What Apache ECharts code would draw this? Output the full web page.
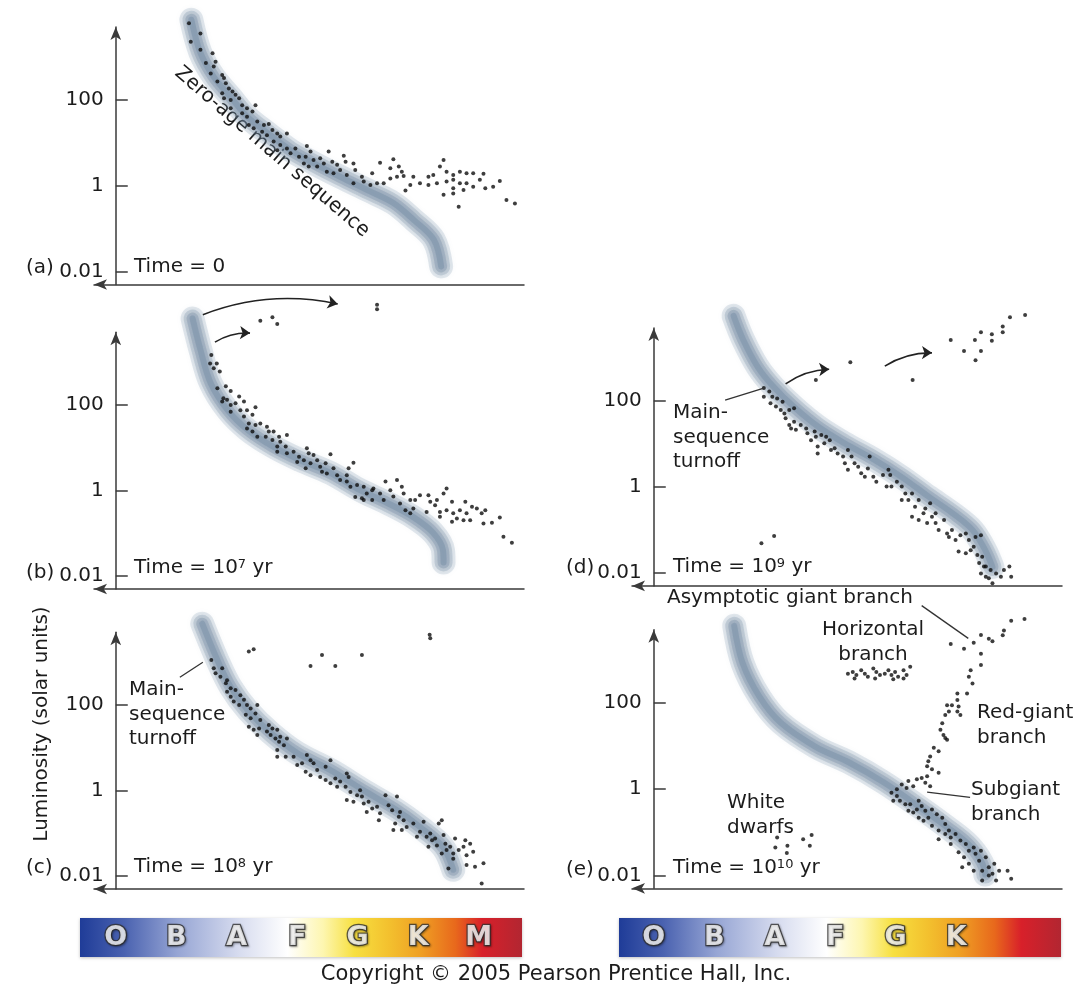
<!DOCTYPE html>
<html><head><meta charset="utf-8">
<script src="https://cdn.jsdelivr.net/npm/echarts@6/dist/echarts.min.js"></script>
<style>html,body{margin:0;padding:0;background:#fff}#c{width:1077px;height:986px}</style>
</head><body><div id="c"></div>
<script>
// ---------------- DATA ----------------
// x = spectral-class index (O=0, B=1, A=2, F=3, G=4, K=5, M=6), second value = log10 luminosity (solar units)
const yTickValues = [0.01, 1, 100];
const yTickLabels = ['0.01', '1', '100'];
const spectralClassesLeft = ['O','B','A','F','G','K','M'];
const spectralClassesRight = ['O','B','A','F','G','K'];

const zamsA = [[1.25,3.87],[1.40,3.10],[1.62,2.54],[1.90,2.07],[2.18,1.60],[2.51,1.23],[2.89,0.83],[3.27,0.53],[3.71,0.21],[4.16,-0.10],[4.59,-0.40],[4.93,-0.80],[5.26,-1.26],[5.38,-1.88]];
const zamsB = [[1.27,4.02],[1.40,3.29],[1.57,2.51],[1.85,1.88],[2.18,1.42],[2.61,1.02],[3.05,0.71],[3.55,0.41],[4.04,0.01],[4.49,-0.29],[4.92,-0.62],[5.25,-0.99],[5.41,-1.39],[5.42,-1.68]];
const zamsC = [[1.43,3.90],[1.68,3.05],[1.90,2.42],[2.18,1.88],[2.56,1.35],[3.00,0.88],[3.55,0.48],[4.09,0.01],[4.65,-0.46],[5.03,-0.85],[5.41,-1.32],[5.58,-1.85]];
const zamsD = [[1.32,3.98],[1.48,3.42],[1.72,2.79],[1.98,2.33],[2.32,1.86],[2.72,1.40],[3.15,1.02],[3.65,0.63],[4.10,0.23],[4.55,-0.23],[4.93,-0.60],[5.27,-1.00],[5.48,-1.47],[5.60,-1.86]];
const zamsE = [[1.33,3.79],[1.47,2.92],[1.75,2.14],[2.10,1.54],[2.67,0.99],[3.23,0.62],[3.80,0.16],[4.38,-0.40],[4.83,-0.86],[5.23,-1.32],[5.47,-1.85],[5.48,-1.98]];

const starsA = [[1.21,3.79],[1.40,3.55],[1.24,3.36],[1.40,3.17],[1.60,3.09],[1.49,2.86],[1.62,2.78],[1.65,2.89],[1.57,2.62],[1.76,2.58],[1.79,2.51],[1.68,2.43],[1.82,2.39],[1.87,2.27],[1.76,2.16],[1.93,2.20],[1.98,2.12],[1.79,2.04],[1.90,2.00],[2.04,2.04],[1.90,1.81],[2.09,1.88],[2.17,1.81],[2.31,1.88],[2.09,1.69],[2.17,1.61],[2.26,1.73],[2.34,1.50],[2.20,1.42],[2.28,1.34],[2.45,1.42],[2.53,1.44],[2.42,1.26],[2.50,1.18],[2.59,1.30],[2.67,1.22],[2.72,1.15],[2.83,1.22],[2.61,1.03],[2.72,0.95],[2.83,0.87],[2.97,0.87],[3.16,0.93],[2.67,0.83],[2.89,0.76],[3.03,0.68],[3.14,0.68],[3.22,0.80],[3.27,0.60],[3.38,0.64],[3.52,0.80],[3.11,0.52],[3.19,0.45],[3.33,0.45],[3.44,0.52],[3.58,0.56],[3.66,0.49],[3.77,0.70],[3.80,0.56],[3.93,0.52],[3.49,0.33],[3.60,0.29],[3.71,0.37],[3.82,0.25],[3.96,0.37],[4.07,0.21],[4.24,0.29],[4.37,0.54],[4.54,0.41],[4.59,0.62],[4.68,0.45],[4.73,0.33],[3.93,0.06],[4.10,0.10],[4.21,0.02],[4.32,0.06],[4.43,0.06],[4.54,0.17],[4.65,0.21],[4.76,0.23],[4.92,0.21],[4.87,0.02],[5.03,0.06],[5.17,0.21],[5.25,0.25],[5.42,0.60],[5.36,0.45],[5.47,0.33],[5.58,0.25],[5.69,0.33],[5.80,0.29],[5.91,0.29],[6.08,0.28],[5.17,0.02],[5.31,0.06],[5.47,0.10],[5.58,0.14],[5.69,0.06],[5.80,0.06],[5.91,-0.02],[5.58,-0.06],[5.75,-0.10],[5.42,-0.21],[5.58,-0.18],[6.02,0.14],[6.11,-0.06],[6.24,-0.02],[6.35,0.11],[5.67,-0.49],[4.79,-0.11],[6.46,-0.33],[6.60,-0.41]];

const starsB = [[2.39,3.97],[2.59,4.05],[2.67,3.89],[4.32,4.34],[4.32,4.24],
[1.58,3.17],[1.56,2.97],[1.67,2.97],[1.62,2.86],[1.72,2.78],[1.68,2.39],[1.82,2.44],[1.90,2.33],[1.78,2.16],[1.76,2.08],[1.84,2.12],[1.90,2.00],[1.98,2.04],[1.90,1.84],[2.04,2.20],[2.12,2.08],[2.06,1.88],[2.17,1.88],[2.12,1.73],[2.26,1.77],[2.31,1.95],[2.20,1.57],[2.31,1.53],[2.39,1.57],[2.17,1.45],[2.26,1.38],[2.34,1.26],[2.50,1.49],[2.53,1.38],[2.48,1.26],[2.61,1.38],[2.59,1.18],[2.70,1.26],[2.72,1.14],[2.83,1.30],[2.67,1.03],[2.67,0.91],[2.81,1.03],[2.83,0.87],[2.94,0.91],[3.03,0.79],[3.00,0.67],[3.11,0.71],[3.16,0.99],[3.19,0.87],[3.27,0.83],[3.14,0.52],[3.22,0.64],[3.33,0.71],[3.38,0.56],[3.47,0.64],[3.55,0.85],[3.41,0.44],[3.49,0.40],[3.60,0.52],[3.66,0.36],[3.71,0.25],[3.82,0.36],[3.82,0.21],[3.85,0.52],[3.93,0.65],[3.88,0.09],[3.99,0.13],[3.96,-0.15],[4.07,-0.18],[4.10,0.09],[4.15,-0.07],[4.24,-0.22],[4.26,0.05],[4.37,-0.07],[4.46,0.21],[4.54,0.01],[4.59,-0.14],[4.65,0.25],[4.73,0.09],[4.76,-0.07],[4.70,-0.30],[4.87,-0.22],[4.92,-0.42],[4.87,-0.53],[5.03,-0.11],[5.17,-0.11],[5.20,-0.26],[5.14,-0.50],[5.28,-0.34],[5.36,-0.61],[5.42,-0.07],[5.47,0.05],[5.56,-0.26],[5.47,-0.46],[5.58,-0.53],[5.69,-0.46],[5.80,-0.53],[5.75,-0.69],[5.86,-0.69],[5.78,-0.26],[5.89,-0.38],[5.97,-0.42],[6.05,-0.53],[6.11,-0.46],[6.08,-0.77],[6.22,-0.75],[6.35,-0.63],[6.41,-1.08],[6.55,-1.22],[4.10,-0.22],[4.43,-0.22],[4.24,0.01],[5.56,-0.73],[5.64,-0.65],[5.36,-0.50],[5.31,-0.22],[4.95,-0.22],[4.79,-0.46]];

const starsC = [[2.20,3.25],[2.28,3.30],[3.22,2.91],[3.41,3.17],[3.63,2.91],[4.07,3.17],[5.19,3.64],[5.20,3.56],
[1.58,3.05],[1.62,2.86],[1.76,2.86],[1.65,2.74],[1.73,2.66],[1.84,2.58],[1.82,2.51],[1.90,2.39],[1.98,2.35],[1.84,2.31],[1.90,2.19],[2.06,2.23],[1.95,2.08],[2.04,2.00],[2.12,2.12],[2.17,2.00],[2.23,1.92],[2.34,2.00],[2.15,1.77],[2.23,1.69],[2.31,1.80],[2.39,1.65],[2.20,1.49],[2.28,1.42],[2.37,1.45],[2.34,1.30],[2.53,1.53],[2.59,1.45],[2.67,1.42],[2.50,1.38],[2.56,1.30],[2.64,1.22],[2.72,1.26],[2.70,1.14],[2.78,1.06],[2.83,1.22],[2.67,0.95],[2.67,0.79],[2.81,0.79],[2.94,0.79],[3.00,0.60],[3.08,0.64],[3.16,0.83],[3.22,0.71],[3.27,0.64],[3.14,0.44],[3.22,0.36],[3.33,0.48],[3.38,0.32],[3.47,0.56],[3.55,0.71],[3.47,0.25],[3.55,0.17],[3.63,0.28],[3.71,0.21],[3.66,0.09],[3.82,0.40],[3.85,0.32],[3.80,0.09],[3.88,-0.03],[3.82,-0.22],[3.93,-0.26],[3.99,-0.11],[4.04,0.01],[4.07,-0.14],[4.10,-0.30],[4.18,-0.26],[4.24,-0.42],[4.15,-0.50],[4.32,-0.38],[4.35,-0.69],[4.37,-0.53],[4.46,-0.11],[4.51,-0.34],[4.57,-0.46],[4.65,-0.14],[4.70,-0.50],[4.68,-0.61],[4.62,-0.77],[4.59,-0.92],[4.76,-0.69],[4.81,-0.85],[4.73,-0.92],[4.92,-0.77],[4.98,-1.08],[5.03,-0.96],[5.09,-0.73],[5.14,-1.08],[5.20,-1.00],[5.23,-1.16],[5.28,-1.12],[5.31,-1.28],[5.17,-1.31],[5.34,-0.77],[5.39,-0.69],[5.42,-1.04],[5.45,-1.24],[5.39,-1.47],[5.47,-1.39],[5.53,-1.31],[5.58,-1.47],[5.61,-1.12],[5.67,-1.39],[5.75,-1.31],[5.78,-1.16],[5.86,-1.24],[5.80,-1.51],[5.91,-1.43],[5.50,-1.82],[5.80,-1.74],[5.94,-1.78],[6.08,-1.70],[6.05,-2.17],[5.58,-1.59]];

const starsD = [[2.68,2.49],[3.25,2.90],[4.28,2.49],[4.91,3.42],[5.13,3.16],[5.31,3.42],[5.32,2.95],[5.41,3.16],[5.41,3.60],[5.59,3.55],[5.59,3.40],[5.77,3.73],[5.77,3.60],[5.89,3.95],[6.14,4.00],
[1.78,-1.31],[1.99,-1.14],
[1.82,2.30],[1.91,2.22],[1.82,2.10],[1.96,2.10],[2.04,2.06],[1.93,1.95],[2.02,1.87],[2.13,1.98],[2.10,1.79],[2.16,1.71],[2.24,1.79],[2.32,1.83],[2.18,1.60],[2.24,1.44],[2.32,1.52],[2.27,1.36],[2.35,1.33],[2.43,1.44],[2.52,1.36],[2.54,1.25],[2.66,1.29],[2.68,1.17],[2.60,1.09],[2.77,1.21],[2.85,1.17],[2.91,1.09],[2.71,0.94],[2.71,0.78],[2.82,1.02],[2.93,0.86],[2.99,0.90],[3.04,0.78],[3.13,0.71],[3.21,0.86],[3.27,0.71],[3.16,0.55],[3.21,0.40],[3.32,0.55],[3.38,0.47],[3.43,0.32],[3.54,0.43],[3.57,0.71],[3.49,0.24],[3.63,0.24],[3.68,0.12],[3.79,0.28],[3.88,0.40],[3.91,0.28],[3.85,0.01],[3.93,0.01],[4.02,0.12],[4.10,0.01],[4.16,-0.15],[4.10,-0.30],[4.21,-0.30],[4.27,-0.15],[4.32,-0.46],[4.38,-0.30],[4.46,-0.61],[4.49,-0.50],[4.57,-0.38],[4.60,-0.69],[4.66,-0.61],[4.27,-0.69],[4.38,-0.77],[4.52,-0.84],[4.66,-0.84],[4.71,-1.00],[4.80,-0.77],[4.85,-1.08],[4.88,-1.16],[4.93,-1.00],[4.99,-1.23],[5.07,-1.12],[5.16,-1.08],[5.21,-1.23],[5.29,-1.39],[5.32,-1.16],[5.41,-1.12],[5.24,-1.47],[5.04,-1.50],[5.16,-1.54],[5.35,-1.58],[5.43,-1.62],[5.38,-1.77],[5.49,-1.85],[5.41,-2.01],[5.49,-2.09],[5.57,-1.93],[5.66,-2.01],[5.74,-2.09],[5.79,-1.93],[5.88,-1.85],[5.91,-2.09],[5.60,-2.24],[5.54,-2.12],[5.46,-1.85]];

const starsE = [[3.21,2.68],[3.29,2.72],[3.35,2.65],[3.43,2.76],[3.49,2.68],[3.54,2.61],[3.63,2.80],[3.68,2.72],[3.74,2.65],[3.82,2.68],[3.88,2.76],[3.93,2.65],[3.99,2.72],[4.04,2.61],[4.13,2.76],[4.18,2.65],[4.24,2.84],[3.32,2.57],[3.66,2.57],[3.96,2.55],[4.13,2.57],
[4.91,3.37],[5.13,3.26],[5.29,3.40],[5.41,3.58],[5.41,3.14],[5.54,3.49],[5.60,3.43],[5.77,3.57],[5.79,3.68],[5.91,3.91],[6.13,3.95],[5.41,2.88],[5.24,2.76],[5.21,2.61],[5.27,2.45],[5.18,2.22],[5.02,2.22],[5.02,2.07],[4.85,1.95],[4.93,1.95],[5.04,1.92],[4.88,1.80],[4.82,1.72],[5.02,1.80],[5.07,1.72],[4.77,1.53],[4.74,1.38],[4.79,1.26],[4.82,1.19],[4.85,1.15],[4.63,0.96],[4.71,0.88],[4.57,0.76],[4.54,0.65],[4.52,0.53],[4.60,0.46],[4.71,0.38],[4.52,0.30],[4.43,0.26],[4.35,0.23],[4.49,0.15],[4.57,0.07],[4.29,0.07],[4.21,0.19],[4.18,0.03],[4.10,0.11],[4.02,0.00],
[3.93,-0.08],[4.02,-0.16],[3.96,-0.27],[4.07,-0.27],[4.16,-0.35],[4.24,-0.35],[4.21,-0.50],[4.29,-0.54],[4.35,-0.47],[4.43,-0.39],[4.49,-0.50],[4.38,-0.66],[4.46,-0.73],[4.54,-0.66],[4.68,-0.58],[4.77,-0.66],[4.60,-0.85],[4.71,-0.96],[4.82,-0.81],[4.82,-1.04],[4.91,-1.12],[4.99,-1.04],[5.07,-1.19],[5.16,-1.27],[5.21,-1.43],[5.29,-1.35],[5.32,-1.50],[5.41,-1.43],[5.49,-1.58],[5.38,-1.66],[5.21,-1.73],[5.10,-1.81],[5.29,-1.89],[5.43,-1.89],[5.54,-1.81],[5.63,-1.73],[5.71,-1.89],[5.85,-1.89],[5.91,-2.08],[5.54,-2.00],[5.43,-2.12],[5.66,-2.12],[5.60,-1.96],[5.04,-1.46],[4.91,-1.27],[4.71,-1.16],[4.38,-0.27],[4.60,-0.47],[4.88,-0.96],[5.13,-1.58],
[2.04,-1.12],[2.47,-1.16],[2.61,-1.06],[2.01,-1.35],[2.21,-1.31],[2.58,-1.31],[2.20,-1.48]];

// evolution arrows and leader lines: [start, end] in (spectral index, log10 L)
const arrowsB = [[[1.44,4.11],[3.67,4.36]], [[1.64,3.47],[2.22,3.68]]];
const arrowsD = [[[2.18,2.40],[2.90,2.74]], [[3.82,2.81],[4.60,3.12]]];
const leadersC = [[[1.06,2.65],[1.44,3.00]]];
const leadersD = [[[1.18,2.02],[1.82,2.30]]];
const leadersE = [[[4.43,4.26],[5.20,3.50]], [[4.52,-0.07],[5.23,-0.19]]];

// ---------------- LAYOUT / STYLE ----------------
const FONT = 'DejaVu Sans';
const TXT = '#1c1c1c';
const AX = '#3a3a3a';
const LOGMIN = -2.3, LOGMAX = 3.7;
const XMIN = -0.36, XMAX = 6.75;
const PW = 430;
const BAND_LAYERS = [{w:24, a:0.18}, {w:18, a:0.24}, {w:12, a:0.3}, {w:6, a:0.36}];
const panels = [
  {left:94,  y100:100, dec:42.9, zams:zamsA, stars:starsA, arrows:[], leaders:[]},
  {left:94,  y100:405, dec:42.8, zams:zamsB, stars:starsB, arrows:arrowsB, leaders:[]},
  {left:94,  y100:705, dec:42.8, zams:zamsC, stars:starsC, arrows:[], leaders:leadersC},
  {left:632, y100:401, dec:43.0, zams:zamsD, stars:starsD, arrows:arrowsD, leaders:leadersD},
  {left:632, y100:703, dec:43.1, zams:zamsE, stars:starsE, arrows:[], leaders:leadersE}
];
const toL = p => [p[0], Math.pow(10, p[1])];

const grid = [], xAxis = [], yAxis = [], series = [];
panels.forEach(p => {
  const top = p.y100 - (LOGMAX - 2) * p.dec;
  const height = (LOGMAX - LOGMIN) * p.dec;
  grid.push({left:p.left, top:top, width:PW, height:height});
  const gi = grid.length - 1;
  xAxis.push({gridIndex:gi, type:'value', min:XMIN, max:XMAX,
    axisLine:{show:true, onZero:false, symbol:['arrow','none'], symbolSize:[8,13], lineStyle:{color:AX, width:1.5}},
    axisTick:{show:false}, axisLabel:{show:false}, splitLine:{show:false}});
  yAxis.push({gridIndex:gi, type:'log', min:Math.pow(10,LOGMIN), max:Math.pow(10,LOGMAX),
    axisLine:{show:true, onZero:true, symbol:['none','arrow'], symbolSize:[8,13], lineStyle:{color:AX, width:1.5}},
    axisTick:{show:false}, axisLabel:{show:false}, splitLine:{show:false}});
  const xi = xAxis.length - 1, yi = yAxis.length - 1;

  // tick/label axis aligned with the luminosity decades
  const axisPx = p.left + (0 - XMIN) / (XMAX - XMIN) * PW;
  grid.push({left:axisPx, top:p.y100, width:10, height:4 * p.dec});
  xAxis.push({gridIndex:gi + 1, type:'value', show:false, min:0, max:1});
  yAxis.push({gridIndex:gi + 1, type:'log', logBase:100, min:yTickValues[0], max:yTickValues[yTickValues.length-1], position:'left',
    axisLine:{show:false, onZero:false},
    axisTick:{show:true, inside:true, length:12, lineStyle:{color:AX, width:1.5}},
    axisLabel:{show:true, margin:12, fontSize:20, fontFamily:FONT, color:TXT,
      formatter: v => { const i = yTickValues.findIndex(t => Math.abs(Math.log10(v) - Math.log10(t)) < 0.05); return i >= 0 ? yTickLabels[i] : ''; }},
    splitLine:{show:false}});

  // soft blurred main-sequence band, built from stacked translucent strokes
  BAND_LAYERS.forEach((b, k) => {
    series.push({type:'line', xAxisIndex:xi, yAxisIndex:yi, data:p.zams.map(toL), smooth:0.35,
      symbol:'none', clip:false, silent:true, z:1 + k * 0.1,
      lineStyle:{width:b.w, color:'rgba(108,133,158,' + b.a + ')', cap:'round', join:'round',
        shadowBlur:6, shadowColor:'rgba(108,133,158,' + b.a + ')'}});
  });
  series.push({type:'scatter', xAxisIndex:xi, yAxisIndex:yi, data:p.stars.map(toL), symbolSize:4,
    clip:false, silent:true, z:3, itemStyle:{color:'#0e0e0e'}});
  if (p.arrows.length) series.push({type:'lines', coordinateSystem:'cartesian2d', xAxisIndex:xi, yAxisIndex:yi, clip:false, silent:true, z:4,
    data:p.arrows.map(a => ({coords:a.map(toL)})), symbol:['none','arrow'], symbolSize:10,
    lineStyle:{color:'#222', width:1.6, curveness:0.15, opacity:1}});
  if (p.leaders.length) series.push({type:'lines', coordinateSystem:'cartesian2d', xAxisIndex:xi, yAxisIndex:yi, clip:false, silent:true, z:4,
    data:p.leaders.map(a => ({coords:a.map(toL)})), symbol:'none',
    lineStyle:{color:'#333', width:1.3, curveness:0, opacity:1}});
});

// spectral class letters on color bars (same x scale as the panels above)
[[94, spectralClassesLeft], [632, spectralClassesRight]].forEach(([left, classes]) => {
  grid.push({left:left, top:918, width:PW, height:39});
  const gi = grid.length - 1;
  xAxis.push({gridIndex:gi, type:'value', show:false, min:XMIN, max:XMAX});
  yAxis.push({gridIndex:gi, type:'value', show:false, min:0, max:1});
  series.push({type:'scatter', xAxisIndex:xAxis.length-1, yAxisIndex:yAxis.length-1, silent:true, z:5,
    data:classes.map((c, i) => [i, 0.5]), symbolSize:1, itemStyle:{color:'rgba(0,0,0,0)'},
    label:{show:true, position:'inside', formatter:q => classes[q.dataIndex], fontSize:27, fontWeight:'bold',
      fontFamily:FONT, color:'#ffffff', textBorderColor:'#333333', textBorderWidth:2.5,
      textShadowColor:'rgba(0,0,0,0.35)', textShadowBlur:2, textShadowOffsetX:1, textShadowOffsetY:1}});
});

const barGradient = {type:'linear', x:0, y:0, x2:1, y2:0, colorStops:[
  {offset:0, color:'#1f3c98'},{offset:0.1, color:'#4a62b0'},{offset:0.22, color:'#96a5d4'},{offset:0.36, color:'#d7dcef'},
  {offset:0.47, color:'#ffffff'},{offset:0.55, color:'#fdf6b0'},{offset:0.62, color:'#f7e040'},{offset:0.7, color:'#f3c02e'},
  {offset:0.77, color:'#efa024'},{offset:0.85, color:'#e8681c'},{offset:0.91, color:'#d8202a'},{offset:1, color:'#b22631'}]};

const txt = (x, y, text, extra) => Object.assign({type:'text', x:x, y:y, silent:true,
  style:Object.assign({text:text, fontSize:20, fontFamily:FONT, fill:TXT, verticalAlign:'middle', align:'left'}, extra || {})});
const sup = {s:{fontSize:13, fontFamily:FONT, fill:TXT, verticalAlign:'top'}};
const multi = {verticalAlign:'top', lineHeight:24.5};

const graphic = [
  {type:'rect', shape:{x:80, y:918, width:442, height:39}, style:{fill:barGradient, shadowBlur:3, shadowColor:'rgba(0,0,0,0.25)', shadowOffsetY:1}, z:0},
  {type:'rect', shape:{x:619, y:918, width:442, height:39}, style:{fill:barGradient, shadowBlur:3, shadowColor:'rgba(0,0,0,0.25)', shadowOffsetY:1}, z:0},
  txt(26, 268, '(a)'), txt(26, 573, '(b)'), txt(26, 868, '(c)'), txt(566, 568, '(d)'), txt(566, 870, '(e)'),
  txt(134, 267, 'Time = 0'),
  txt(134, 568, 'Time = 10{s|7} yr', {rich:sup}),
  txt(134, 867, 'Time = 10{s|8} yr', {rich:sup}),
  txt(673, 567, 'Time = 10{s|9} yr', {rich:sup}),
  txt(673, 868, 'Time = 10{s|10} yr', {rich:sup}),
  Object.assign(txt(272, 152, 'Zero-age main sequence', {align:'center'}), {rotation:-40.8 * Math.PI / 180}),
  txt(129, 678, 'Main-\nsequence\nturnoff', multi),
  txt(673, 401, 'Main-\nsequence\nturnoff', multi),
  txt(667, 598, 'Asymptotic giant branch'),
  txt(873, 618, 'Horizontal\nbranch', Object.assign({}, multi, {align:'center'})),
  txt(977, 701, 'Red-giant\nbranch', multi),
  txt(971, 778, 'Subgiant\nbranch', multi),
  txt(727, 791, 'White\ndwarfs', multi),
  Object.assign(txt(42, 724, 'Luminosity (solar units)', {align:'center'}), {rotation:Math.PI / 2}),
  txt(556, 975, 'Copyright © 2005 Pearson Prentice Hall, Inc.', {align:'center', fontSize:21})
];

const chart = echarts.init(document.getElementById('c'), null, {renderer:'canvas'});
chart.setOption({animation:false, backgroundColor:'#ffffff', grid, xAxis, yAxis, series, graphic});
</script>
</body></html>
